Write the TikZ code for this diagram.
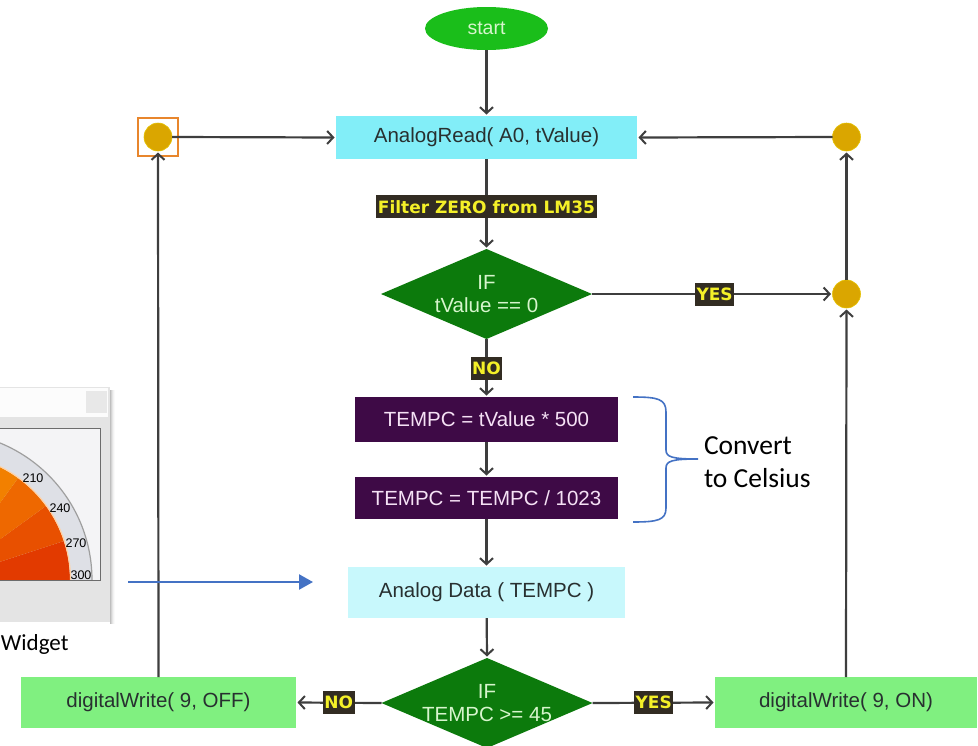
\documentclass[tikz,border=0pt]{standalone}
\usepackage{fontspec}
\setmainfont{Liberation Sans}
\newfontfamily\tagfont{DejaVu Sans}
\newfontfamily\notefont{Carlito}
\usetikzlibrary{shapes.geometric,arrows.meta,calc}

\definecolor{flowline}{RGB}{62,62,62}
\definecolor{startgreen}{RGB}{26,190,26}
\definecolor{readcyan}{RGB}{130,238,248}
\definecolor{datacyan}{RGB}{200,248,252}
\definecolor{ifgreen}{RGB}{12,122,12}
\definecolor{iftext}{RGB}{215,245,205}
\definecolor{calcpurple}{RGB}{62,10,70}
\definecolor{calctext}{RGB}{245,225,245}
\definecolor{outgreen}{RGB}{128,240,128}
\definecolor{boxtext}{RGB}{40,48,48}
\definecolor{joingold}{RGB}{218,166,0}
\definecolor{selorange}{RGB}{232,134,44}
\definecolor{tagbg}{RGB}{50,44,34}
\definecolor{tagfg}{RGB}{244,240,40}
\definecolor{notebl}{RGB}{68,114,196}
\definecolor{winframe}{RGB}{228,228,228}
\definecolor{winplot}{RGB}{244,244,246}
\definecolor{ringgray}{RGB}{222,224,230}
\definecolor{wedgeA}{RGB}{226,58,0}
\definecolor{wedgeB}{RGB}{232,80,0}
\definecolor{wedgeC}{RGB}{238,104,0}
\definecolor{wedgeD}{RGB}{242,128,0}
\definecolor{wedgeE}{RGB}{245,148,0}
\definecolor{wedgeF}{RGB}{247,162,10}

\begin{document}
\begin{tikzpicture}[x=1pt,y=-1pt,
  every node/.style={inner sep=0pt,outer sep=0pt},
  flow/.style={draw=flowline,line width=2.2pt,
    -{Straight Barb[length=6pt,width=13pt,line width=2pt]},shorten >=1.5pt},
  txt/.style={font=\fontsize{20.5}{23}\selectfont},
  readbox/.style={rectangle,fill=readcyan,text=boxtext,txt},
  databox/.style={rectangle,fill=datacyan,text=boxtext,txt},
  calcbox/.style={rectangle,fill=calcpurple,text=calctext,txt},
  outbox/.style={rectangle,fill=outgreen,text=boxtext,txt},
  decision/.style={diamond,fill=ifgreen,minimum width=211pt,minimum height=90pt},
  dtext/.style={text=iftext,align=center,txt},
  joint/.style={circle,fill=joingold,draw=joingold!70!yellow,line width=0.6pt,minimum size=28pt},
  tag/.style={fill=tagbg,text=tagfg,font=\tagfont\bfseries\fontsize{17}{19}\selectfont,
    inner xsep=1.5pt,minimum height=23pt},
  note/.style={font=\notefont\fontsize{27.5}{33}\selectfont,text=black},
  gaugenum/.style={font=\fontsize{12.5}{14}\selectfont,text=black}
]
\useasboundingbox (0,0) rectangle (978,745);
\fill[white] (0,0) rectangle (978,745);

% ---- gauge widget window ----
\foreach \s/\o in {1/0.10,2/0.07,3/0.05,4/0.03,5/0.02}
  \fill[black,opacity=\o] (110,390) rectangle (110+\s,624);
\fill[winframe] (-2,387) rectangle (110,622);
\fill[white!98!gray] (-2,388) rectangle (108,417);
\fill[gray!18] (86,391) rectangle (107,413);
\fill[winplot] (-2,428) rectangle (100,580);
\coordinate (gc) at (-56,580);
\begin{scope}
  \clip (-2,428) rectangle (100,580);
  \fill[ringgray] (gc) circle (148pt);
  \draw[gray!75,line width=1.2pt] (gc) circle (148pt);
  \foreach \a/\b/\c in {0/18/wedgeA,18/36/wedgeB,36/54/wedgeC,54/72/wedgeD,72/90/wedgeE,90/180/wedgeF}
    \fill[\c] (gc) -- ++(\a:126pt) arc[start angle=\a,end angle=\b,radius=126pt] -- cycle;
  \draw[orange!35!white,line width=1.2pt] (gc) circle (126.5pt);
\end{scope}
\draw[gray!85!black,line width=1pt] (-2,428) rectangle (100,580);
\node[gaugenum] (g300) at (81,575) {300};
\node[gaugenum] (g270) at (76,543) {270};
\node[gaugenum] (g240) at (60,508) {240};
\node[gaugenum] (g210) at (33,478) {210};
\node[anchor=base west,font=\notefont\fontsize{23}{27}\selectfont] (wlabel) at (1,650) {Widget};

% ---- flowchart nodes ----
\node[ellipse,fill=startgreen,text=iftext,minimum width=123pt,minimum height=43pt,
      font=\fontsize{19.5}{22}\selectfont] (start) at (486.5,28.5) {start};
\node[readbox,minimum width=301pt,minimum height=43pt] (read) at (486.5,137.5) {AnalogRead( A0, tValue)};
\node[decision,label={[dtext]center:IF\\tValue == 0}] (ifzero) at (486.5,294) {};
\node[calcbox,minimum width=263pt,minimum height=45pt] (mul) at (486.5,419.5) {TEMPC = tValue * 500};
\node[calcbox,minimum width=263pt,minimum height=42pt] (div) at (486.5,498) {TEMPC = TEMPC / 1023};
\node[databox,minimum width=277pt,minimum height=51pt] (data) at (486.5,592.5) {Analog Data ( TEMPC )};
\node[decision,label={[dtext]center:IF\\TEMPC >= 45}] (ifhot) at (487,703) {};
\node[outbox,minimum width=275pt,minimum height=51pt] (off) at (158.5,702.5) {digitalWrite( 9, OFF)};
\node[outbox,minimum width=262pt,minimum height=51pt] (on) at (846,702.5) {digitalWrite( 9, ON)};

\node[rectangle,draw=selorange,line width=2.4pt,minimum width=40pt,minimum height=38pt] (sel) at (158,137) {};
\node[joint] (jleft) at (158,137) {};
\node[joint] (jtop) at (846.5,137) {};
\node[joint] (jmid) at (846.5,294) {};

% ---- connectors ----
\draw[flow] (start) -- (read);
\draw[flow] (read) -- node[tag,pos=0.53] (filt) {Filter ZERO from LM35} (ifzero);
\draw[flow] (ifzero.east) -- node[tag,pos=0.51] (yes1) {YES} (jmid);
\draw[flow] (ifzero.south) -- node[tag] (no1) {NO} (mul);
\draw[flow] (mul) -- (div);
\draw[flow] (div) -- (data);
\draw[flow] (data) -- (ifhot.north);
\draw[flow] (ifhot.west) -- node[tag] (no2) {NO} (off.east);
\draw[flow] (ifhot.east) -- node[tag] (yes2) {YES} (on.west);
\draw[flow] (off.north) -- (jleft.south);
\draw[flow] (jleft.east) -- (read.west);
\draw[flow] (on.north) -- (jmid.south);
\draw[flow] (jmid.north) -- (jtop.south);
\draw[flow] (jtop.west) -- (read.east);

% ---- annotation: brace and text ----
\draw[notebl,line width=1.6pt]
  (633,397) .. controls (658,397) and (666,399) .. (666,412) -- (666,450)
  .. controls (666,457) and (672,459) .. (698,459)
  .. controls (672,459) and (666,461) .. (666,468) -- (666,508)
  .. controls (666,520) and (658,522) .. (633,522);
\node[note,anchor=west,align=left] (conv) at (704,462) {Convert\\to Celsius};

% ---- arrow from the widget to the data block ----
\coordinate (wtail) at (128,582);
\coordinate (whead) at (313,582);
\draw[notebl,line width=2.4pt,-{Triangle[length=14pt,width=15pt]}] (wtail) -- (whead);
\end{tikzpicture}
\end{document}
